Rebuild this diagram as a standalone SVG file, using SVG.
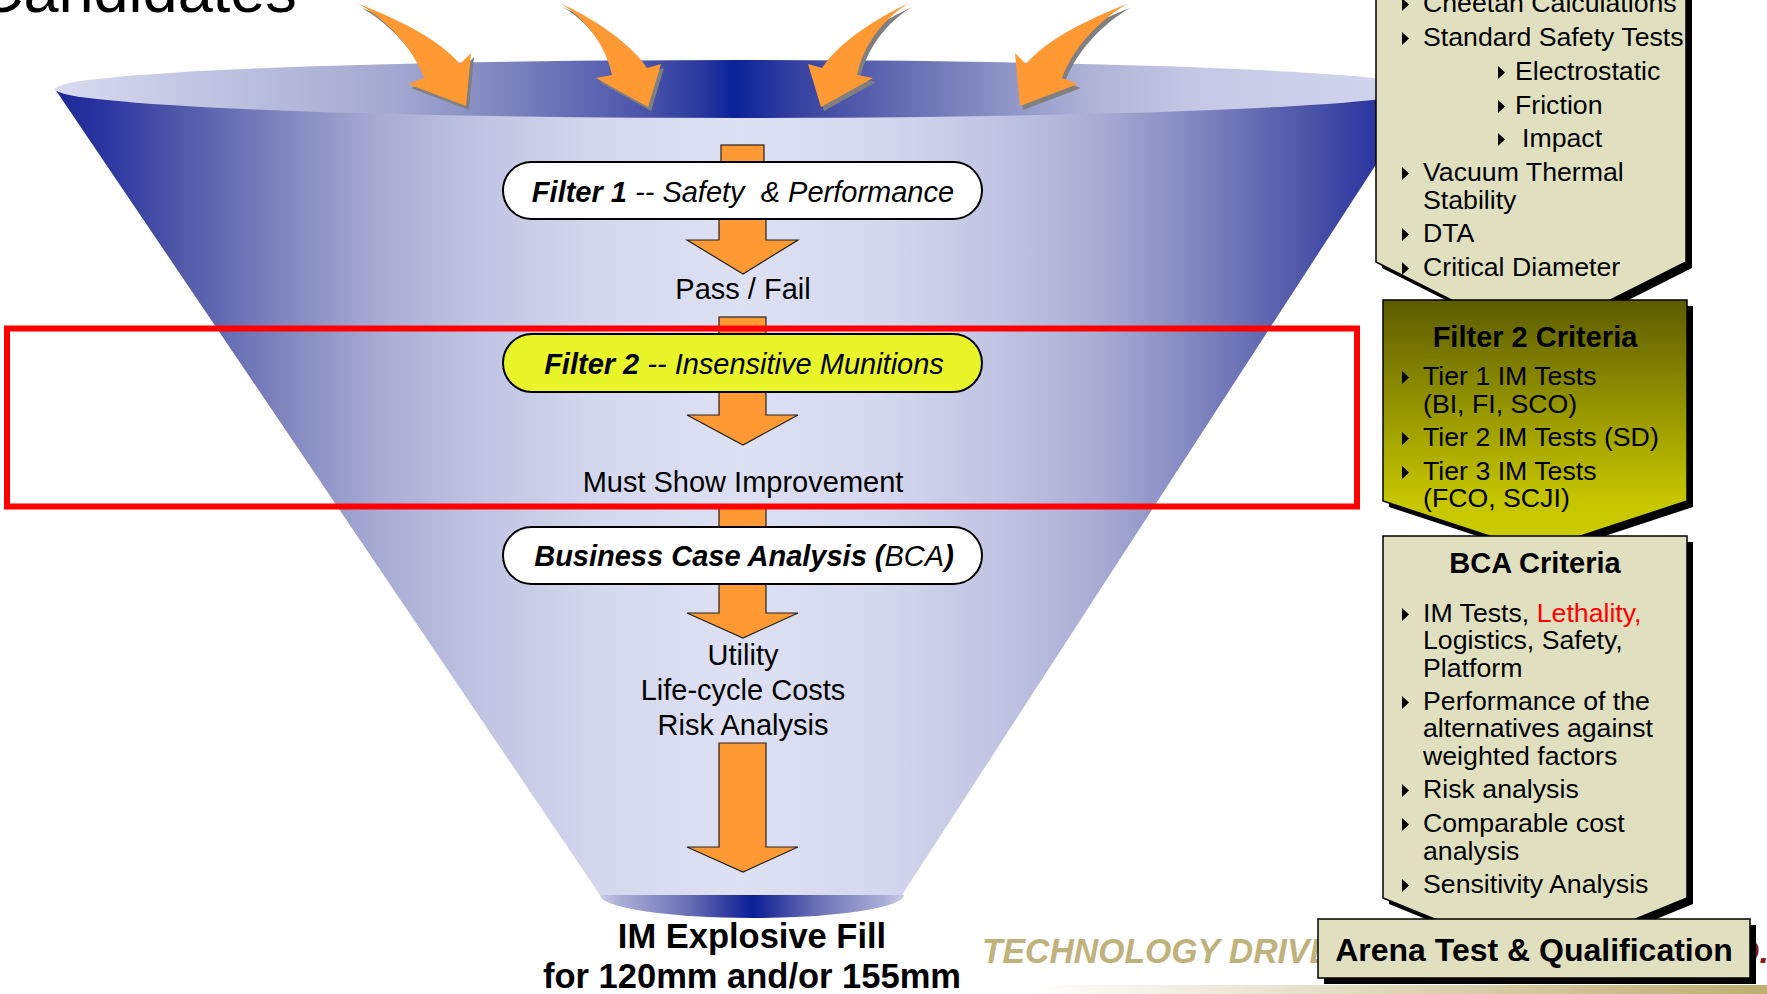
<svg xmlns="http://www.w3.org/2000/svg" xmlns:xlink="http://www.w3.org/1999/xlink" width="1767" height="994" viewBox="0 0 1767 994">
<defs>
<linearGradient id="gBody" gradientUnits="userSpaceOnUse" x1="55" y1="0" x2="1425" y2="0">
<stop offset="0" stop-color="#1A2896"/><stop offset="0.036" stop-color="#2B35A0"/><stop offset="0.091" stop-color="#5058A8"/><stop offset="0.164" stop-color="#7F84BE"/><stop offset="0.237" stop-color="#A8ACD3"/><stop offset="0.31" stop-color="#C0C4E2"/><stop offset="0.4" stop-color="#D5D8EE"/><stop offset="0.5" stop-color="#DEE1F3"/><stop offset="0.6" stop-color="#D5D8EE"/><stop offset="0.69" stop-color="#C0C4E2"/><stop offset="0.763" stop-color="#A8ACD3"/><stop offset="0.836" stop-color="#7F84BE"/><stop offset="0.909" stop-color="#5058A8"/><stop offset="0.964" stop-color="#2B35A0"/><stop offset="1" stop-color="#1A2896"/>
</linearGradient>
<linearGradient id="gMouth" gradientUnits="userSpaceOnUse" x1="55" y1="0" x2="1425" y2="0">
<stop offset="0" stop-color="#D8DBF0"/><stop offset="0.25" stop-color="#A3A8D0"/><stop offset="0.3" stop-color="#8C92C4"/><stop offset="0.43" stop-color="#4A54AA"/><stop offset="0.47" stop-color="#2C3A9E"/><stop offset="0.495" stop-color="#0A2299"/><stop offset="0.54" stop-color="#3540A0"/><stop offset="0.61" stop-color="#6068B0"/><stop offset="0.69" stop-color="#8C92C4"/><stop offset="0.76" stop-color="#B0B5D8"/><stop offset="0.836" stop-color="#C5C9E5"/><stop offset="1" stop-color="#D3D6EE"/>
</linearGradient>
<linearGradient id="gOut" gradientUnits="userSpaceOnUse" x1="600" y1="0" x2="904" y2="0">
<stop offset="0" stop-color="#C8CCE8"/><stop offset="0.07" stop-color="#A8ADD5"/><stop offset="0.29" stop-color="#6A70B5"/><stop offset="0.46" stop-color="#1E2B98"/><stop offset="0.5" stop-color="#0A2299"/><stop offset="0.54" stop-color="#1E2B98"/><stop offset="0.71" stop-color="#6A70B5"/><stop offset="0.93" stop-color="#A8ADD5"/><stop offset="1" stop-color="#C8CCE8"/>
</linearGradient>
<linearGradient id="gF2" x1="0" y1="0" x2="0" y2="1">
<stop offset="0" stop-color="#5C5C00"/><stop offset="0.8" stop-color="#C6C600"/><stop offset="1" stop-color="#CCCC00"/>
</linearGradient>
<linearGradient id="gStrip" gradientUnits="userSpaceOnUse" x1="1030" y1="0" x2="1767" y2="0">
<stop offset="0" stop-color="#FFFFFF"/><stop offset="1" stop-color="#BDAD70"/>
</linearGradient>
<path id="arrowA" d="M359,4 C400,20 440,40 460,64 L471,53 L466,106 L408,84 L424,78 C416,56 396,26 359,4 Z"/>
<path id="arrowB" d="M560,3 C592,18 630,42 647,68 L661,64 L648,107 L596,78 L612,75 C608,55 594,24 560,3 Z"/>
<path id="bl" d="M0,-14 L0,-1 L7,-7.5 Z"/>
</defs>
<style>
.t{font-family:'Liberation Sans',Arial,Helvetica,sans-serif;fill:#000}
.lbl{font-size:29px;text-anchor:middle}
.pill{stroke:#000;stroke-width:2}
.pt{font-size:29px;font-style:italic;text-anchor:middle}
.li{font-size:26.7px}
.hd{font-size:29px;font-weight:bold;text-anchor:middle}
.panel{stroke:#000;stroke-width:1.5}
.beige{fill:#E0E0C0}
.conn{fill:#FF9933;stroke:#222;stroke-width:1.2}
.bul{fill:#000}
</style>
<rect width="1767" height="994" fill="#FFFFFF"/>

<text class="t" x="-22" y="12" font-size="63">Candidates</text>

<g id="funnel">
<polygon points="55,89 1425,89 902,895 600,895" fill="url(#gBody)"/>
<ellipse cx="740" cy="89" rx="685" ry="29" fill="url(#gMouth)"/>
<path d="M600,895 L904,895 A152,23 0 0 1 600,895 Z" fill="url(#gOut)"/>
</g>

<g id="input-arrows">
<g transform="translate(3,4)" fill="#808080">
<use xlink:href="#arrowA"/>
<use xlink:href="#arrowB"/>
<use xlink:href="#arrowB" transform="translate(1469,0) scale(-1,1)"/>
<use xlink:href="#arrowA" transform="translate(1486,0) scale(-1,1)"/>
</g>
<g fill="#FF9933">
<use xlink:href="#arrowA"/>
<use xlink:href="#arrowB"/>
<use xlink:href="#arrowB" transform="translate(1469,0) scale(-1,1)"/>
<use xlink:href="#arrowA" transform="translate(1486,0) scale(-1,1)"/>
</g>
</g>

<g id="connectors">
<rect class="conn" x="721" y="145" width="43" height="22"/>
<path class="conn" d="M719,215 L766,215 L766,240 L798,240 L743,274 L687,240 L719,240 Z"/>
<rect class="conn" x="719" y="317" width="47" height="22"/>
<path class="conn" d="M719,388 L766,388 L766,415 L798,415 L743,445 L687,415 L719,415 Z"/>
<rect class="conn" x="719" y="506" width="47" height="25"/>
<path class="conn" d="M719,580 L766,580 L766,613 L798,613 L743,638 L687,613 L719,613 Z"/>
<path class="conn" d="M719,743 L766,743 L766,847 L798,847 L743,872 L687,847 L719,847 Z"/>
</g>

<g id="filter1">
<rect class="pill" x="503" y="162" width="479" height="57" rx="28.5" fill="#FFFFFF"/>
<text class="t pt" x="743" y="202" xml:space="preserve"><tspan font-weight="bold">Filter 1</tspan> -- Safety  &amp; Performance</text>
</g>
<text id="passfail" class="t lbl" x="743" y="299">Pass / Fail</text>

<g id="filter2">
<rect class="pill" x="503" y="334" width="479" height="58" rx="29" fill="#E8F52A"/>
<text class="t pt" x="744" y="374"><tspan font-weight="bold">Filter 2</tspan> -- Insensitive Munitions</text>
</g>
<text id="improve" class="t lbl" x="743" y="492">Must Show Improvement</text>

<g id="bca">
<rect class="pill" x="503" y="527" width="479" height="57" rx="28.5" fill="#FFFFFF"/>
<text class="t pt" x="744" y="566"><tspan font-weight="bold">Business Case Analysis (</tspan>BCA<tspan font-weight="bold">)</tspan></text>
</g>
<g id="bca-out" class="t lbl">
<text x="743" y="665">Utility</text>
<text x="743" y="700">Life-cycle Costs</text>
<text x="743" y="735">Risk Analysis</text>
</g>

<g id="result" class="t" font-weight="bold" font-size="34.5" text-anchor="middle">
<text x="752" y="948">IM Explosive Fill</text>
<text x="752" y="988">for 120mm and/or 155mm</text>
</g>

<rect id="highlight" x="7" y="328.5" width="1350" height="178" fill="none" stroke="#FF0000" stroke-width="6"/>

<g id="panel-filter1">
<polygon points="1382,-10 1692,-10 1692,268 1537,346 1382,268" fill="#000"/>
<polygon class="panel beige" points="1376,-10 1686,-10 1686,262 1531,340 1376,262"/>
<g class="t li">
<use xlink:href="#bl" x="1402" y="12" class="bul"/><text x="1423" y="12">Cheetah Calculations</text>
<use xlink:href="#bl" x="1402" y="46" class="bul"/><text x="1423" y="46">Standard Safety Tests</text>
<use xlink:href="#bl" x="1498" y="80" class="bul"/><text x="1515" y="80">Electrostatic</text>
<use xlink:href="#bl" x="1498" y="114" class="bul"/><text x="1515" y="114">Friction</text>
<use xlink:href="#bl" x="1498" y="147" class="bul"/><text x="1522" y="147">Impact</text>
<use xlink:href="#bl" x="1402" y="181" class="bul"/><text x="1423" y="181">Vacuum Thermal</text>
<text x="1423" y="209">Stability</text>
<use xlink:href="#bl" x="1402" y="242" class="bul"/><text x="1423" y="242">DTA</text>
<use xlink:href="#bl" x="1402" y="276" class="bul"/><text x="1423" y="276">Critical Diameter</text>
</g>
</g>

<g id="panel-filter2">
<polygon points="1389,306 1693,306 1693,507 1541,557 1389,507" fill="#000"/>
<polygon class="panel" points="1383,300 1687,300 1687,501 1535,551 1383,501" fill="url(#gF2)"/>
<text class="t hd" x="1535" y="347">Filter 2 Criteria</text>
<g class="t li">
<use xlink:href="#bl" x="1402" y="385" class="bul"/><text x="1423" y="385">Tier 1 IM Tests</text>
<text x="1423" y="413">(BI, FI, SCO)</text>
<use xlink:href="#bl" x="1402" y="446" class="bul"/><text x="1423" y="446">Tier 2 IM Tests (SD)</text>
<use xlink:href="#bl" x="1402" y="480" class="bul"/><text x="1423" y="480">Tier 3 IM Tests</text>
<text x="1423" y="507">(FCO, SCJI)</text>
</g>
</g>

<g id="panel-bca">
<polygon points="1389,542 1693,542 1693,904 1541,966 1389,904" fill="#000"/>
<polygon class="panel beige" points="1383,536 1687,536 1687,898 1535,960 1383,898"/>
<text class="t hd" x="1535" y="573">BCA Criteria</text>
<g class="t li">
<use xlink:href="#bl" x="1402" y="622" class="bul"/><text x="1423" y="622">IM Tests, <tspan fill="#FF0000">Lethality,</tspan></text>
<text x="1423" y="649">Logistics, Safety,</text>
<text x="1423" y="677">Platform</text>
<use xlink:href="#bl" x="1402" y="710" class="bul"/><text x="1423" y="710">Performance of the</text>
<text x="1423" y="737">alternatives against</text>
<text x="1423" y="765">weighted factors</text>
<use xlink:href="#bl" x="1402" y="798" class="bul"/><text x="1423" y="798">Risk analysis</text>
<use xlink:href="#bl" x="1402" y="832" class="bul"/><text x="1423" y="832">Comparable cost</text>
<text x="1423" y="860">analysis</text>
<use xlink:href="#bl" x="1402" y="893" class="bul"/><text x="1423" y="893">Sensitivity Analysis</text>
</g>
</g>

<g id="footer">
<rect x="1030" y="985" width="737" height="9" fill="url(#gStrip)"/>
<text class="t" x="982" y="963" font-size="35" font-weight="bold" font-style="italic" textLength="350" lengthAdjust="spacingAndGlyphs" style="fill:#C0B27C">TECHNOLOGY DRIVE</text>
<text class="t" x="1769" y="963" font-size="34" font-weight="bold" font-style="italic" text-anchor="end" style="fill:#8B1A1A">D.</text>
</g>

<g id="arena">
<rect x="1324" y="925" width="432" height="59" fill="#000"/>
<rect class="panel beige" x="1318" y="919" width="432" height="59"/>
<text class="t" x="1534" y="961" font-size="32" font-weight="bold" text-anchor="middle">Arena Test &amp; Qualification</text>
</g>
</svg>
